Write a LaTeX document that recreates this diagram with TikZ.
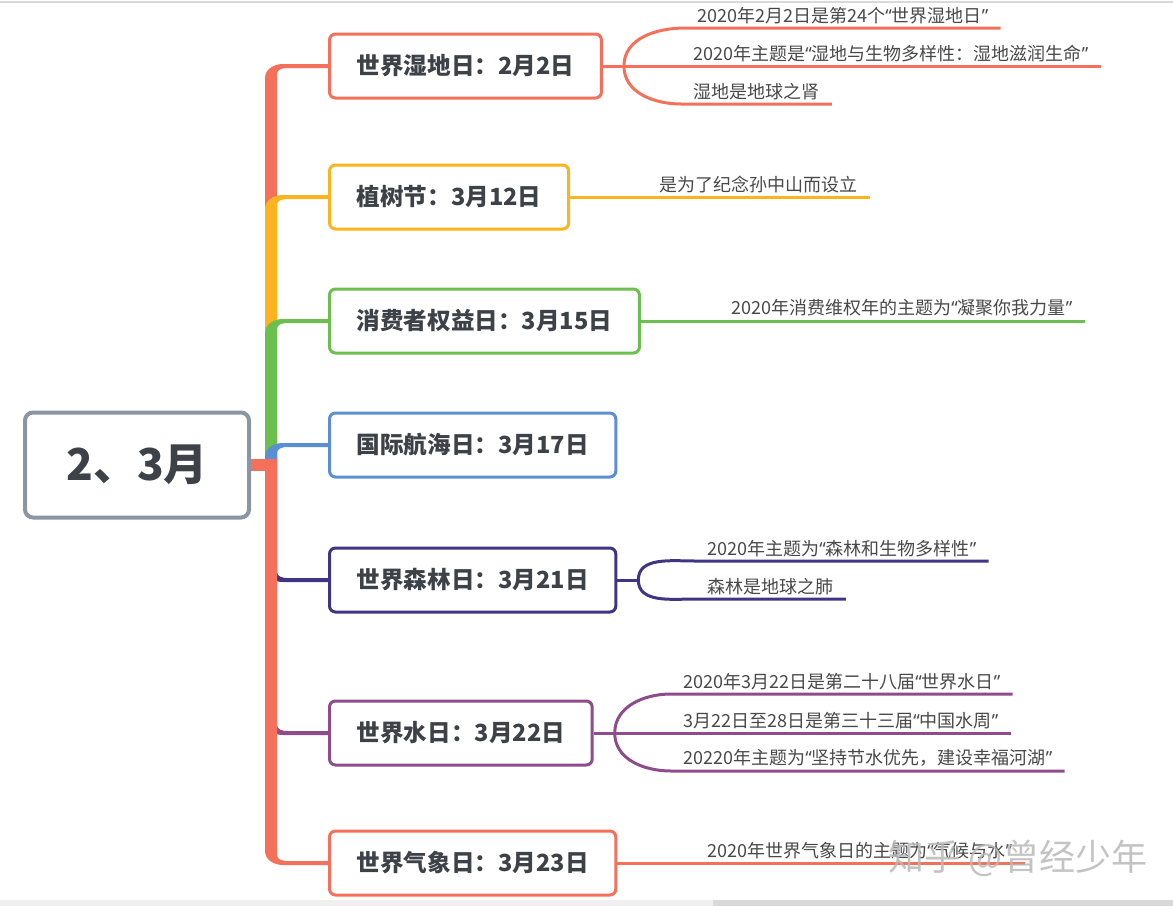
\documentclass[tikz,border=0pt]{standalone}
\usepackage{fontspec}
\setmainfont{Noto Sans CJK SC}
\newfontfamily\qfont{Noto Sans}
\newcommand{\qt}[1]{{\qfont “}#1{\qfont ”}}
\usepackage{tikz}
\usetikzlibrary{positioning,calc}

\definecolor{cRed}{HTML}{F4705A}
\definecolor{cYel}{HTML}{FAB420}
\definecolor{cGrn}{HTML}{6CBF4E}
\definecolor{cBlu}{HTML}{5A8FD3}
\definecolor{cInd}{HTML}{3F3585}
\definecolor{cPur}{HTML}{8E4C8C}
\definecolor{cRoot}{HTML}{8C95A6}
\definecolor{txt}{HTML}{3D4148}
\definecolor{leafTxt}{HTML}{484848}

\begin{document}
\begin{tikzpicture}[
    x=0.5pt, y=0.5pt,
    rootbox/.style={rectangle, draw=cRoot, line width=2pt, rounded corners=4pt, minimum width=112pt, minimum height=52.5pt, font=\bfseries\fontsize{22}{26}\selectfont, text=txt},
    box/.style={rectangle, draw, line width=1.5pt, rounded corners=3pt, minimum height=32pt, inner xsep=13.6pt, anchor=west, font=\bfseries\fontsize{11.8}{14}\selectfont, text=txt},
    leaf/.style={inner xsep=6pt, inner ysep=2pt, anchor=south west, font=\fontsize{9}{11}\selectfont, text=leafTxt},
    twig/.style={line width=1.5pt}
]
    \useasboundingbox (0,0) rectangle (1173,-906);
    \draw[gray!30, line width=1pt] (0,-1.5) -- (1173,-1.5);
    \fill[gray!12] (0,-900) rectangle (713,-906);
    \fill[gray!30] (713,-900) rectangle (1173,-906);

    \node[rootbox] (root) at (137,-465) {2、3月};
    \coordinate (hub) at (271,-465);

    \node[box, draw=cRed] (w1) at (328,-66) {世界湿地日：2月2日};
    \node[box, draw=cYel] (w2) at (328,-197) {植树节：3月12日};
    \node[box, draw=cGrn] (w3) at (328,-321) {消费者权益日：3月15日};
    \node[box, draw=cBlu] (w4) at (328,-445) {国际航海日：3月17日};
    \node[box, draw=cInd] (w5) at (328,-580) {世界森林日：3月21日};
    \node[box, draw=cPur] (w6) at (328,-733) {世界水日：3月22日};
    \node[box, draw=cRed] (w7) at (328,-863) {世界气象日：3月23日};

    % main branches
    \foreach \col/\nd/\dd/\ang in {cRed/w1/1/90, cYel/w2/1/90, cGrn/w3/1/90, cBlu/w4/1/90, cInd/w5/-1/-90, cPur/w6/-1/-90, cRed/w7/-1/-90}{
        \coordinate (p) at (hub |- \nd.west);
        \fill[\col] ([xshift=-3pt]hub) -- ([xshift=-3pt,yshift=-6pt*\dd]p)
            to[out=\ang,in=180] ([xshift=6pt,yshift=1pt*\dd]p) -- ([yshift=1pt*\dd]\nd.west)
            -- ([yshift=-1pt*\dd]\nd.west) -- ([xshift=8pt,yshift=-1pt*\dd]p)
            to[out=180,in=\ang] ([xshift=3pt,yshift=-4pt*\dd]p) -- ([xshift=3pt]hub) -- cycle;
    }
    \draw[line width=6pt, cRed] (root.east) -- ([xshift=3pt]hub);

    % leaves
    \node[leaf] (l11) at (685,-28) {2020年2月2日是第24个\qt{世界湿地日}};
    \node[leaf] (l12) at (681,-66) {2020年主题是\qt{湿地与生物多样性：湿地滋润生命}};
    \node[leaf] (l13) at (681,-104) {湿地是地球之肾};
    \node[leaf] (l21) at (647,-197) {是为了纪念孙中山而设立};
    \node[leaf] (l31) at (719,-321) {2020年消费维权年的主题为\qt{凝聚你我力量}};
    \node[leaf] (l51) at (695,-561) {2020年主题为\qt{森林和生物多样性}};
    \node[leaf] (l52) at (695,-599) {森林是地球之肺};
    \node[leaf] (l61) at (671,-694) {2020年3月22日是第二十八届\qt{世界水日}};
    \node[leaf] (l62) at (671,-733) {3月22日至28日是第三十三届\qt{中国水周}};
    \node[leaf] (l63) at (671,-771) {20220年主题为\qt{坚持节水优先，建设幸福河湖}};
    \node[leaf] (l71) at (695,-863) {2020年世界气象日的主题为\qt{气候与水}};

    \coordinate[right=10.5pt of w1.east] (f1);
    \coordinate[right=10.5pt of w5.east] (f5);
    \coordinate[right=10.5pt of w6.east] (f6);

    \draw[twig, cRed] (w1.east) -- (f1);
    \draw[twig, cRed] (f1) to[out=90,in=180] (l11.south west) -- (l11.south east);
    \draw[twig, cRed] (f1) -- (l12.south west) -- (l12.south east);
    \draw[twig, cRed] (f1) to[out=-90,in=180] (l13.south west) -- (l13.south east);

    \draw[twig, cYel] (w2.east) -- (l21.south west) -- (l21.south east);
    \draw[twig, cGrn] (w3.east) -- (l31.south west) -- (l31.south east);

    \draw[twig, cInd] (w5.east) -- (f5);
    \draw[twig, cInd] (f5) to[out=90,in=180] (l51.south west) -- (l51.south east);
    \draw[twig, cInd] (f5) to[out=-90,in=180] (l52.south west) -- (l52.south east);

    \draw[twig, cPur] (w6.east) -- (f6);
    \draw[twig, cPur] (f6) to[out=90,in=180] (l61.south west) -- (l61.south east);
    \draw[twig, cPur] (f6) -- (l62.south west) -- (l62.south east);
    \draw[twig, cPur] (f6) to[out=-90,in=180] (l63.south west) -- (l63.south east);

    \draw[twig, cRed] (w7.east) -- (l71.south west) -- (l71.south east);

    \node[text=gray!55, opacity=0.85, font=\fontsize{18}{20}\selectfont] (wm) at (1018,-858) {知乎 @曾经少年};
\end{tikzpicture}
\end{document}
